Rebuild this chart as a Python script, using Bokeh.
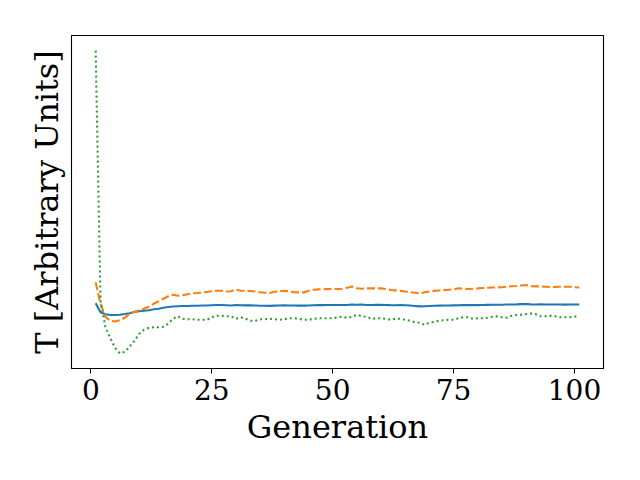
from bokeh.plotting import figure
from bokeh.models import Range1d, FixedTicker
from bokeh.embed import file_html
from bokeh.resources import INLINE

generations = list(range(1, 102))

blue_T = [57.5, 48.5, 46.5, 45.7, 45.7, 46, 46.7, 47.5, 48.8, 49.5,
          50, 50.5, 51.5, 52, 53, 53.8, 54.3, 54.5, 54.7, 54.7,
          55, 55, 55.2, 55.2, 55.5, 55.7, 55.7, 55.5, 55.3, 55.7,
          55.5, 55.4, 55.4, 55.2, 55, 55, 54.9, 55.1, 55.3, 55.4,
          55.3, 55.2, 55.1, 55.1, 55.3, 55.5, 55.6, 55.6, 55.7, 55.7,
          55.7, 55.8, 55.8, 56.2, 56, 56.3, 55.7, 55.8, 55.9, 55.9,
          55.8, 55.6, 55.5, 55.6, 55.5, 55.2, 54.8, 54.4, 54.5, 54.8,
          55, 55.1, 55.2, 55.3, 55.4, 55.5, 55.6, 55.7, 55.6, 55.6,
          55.7, 55.9, 56, 56, 56, 56.2, 56.3, 56.4, 56.6, 56.7,
          56.4, 56.3, 56.4, 56.3, 56.2, 56.3, 56.2, 56.1, 56.2, 56.3,
          56.2]

orange_T = [78.5, 57, 44, 40, 39.3, 40.5, 43, 47, 49, 50.5,
            52, 54, 57, 59.5, 62, 64.5, 66, 65, 65.5, 66.5,
            67.5, 67.7, 68, 68.8, 69.5, 70, 70, 69.2, 69.5, 71.2,
            70, 70, 69.7, 69.2, 68.5, 68, 67.7, 69, 69.7, 70,
            69.5, 68.5, 68.3, 68.3, 70, 71, 71.3, 71.5, 71.7, 71.7,
            71.7, 72, 73, 74.2, 72.5, 72, 72.3, 72.3, 72.3, 72.3,
            71.7, 70.7, 70.3, 69.8, 69.2, 68.5, 68, 67.3, 68.5, 69.3,
            69.8, 70.2, 70.6, 71, 71.3, 72.5, 72.2, 71.7, 72, 72.3,
            72.7, 73, 73.2, 73.3, 73.5, 74, 74.4, 74.7, 75.2, 75.7,
            74.5, 74.3, 74.3, 74, 73.7, 73.8, 74, 74, 74, 73.5,
            73.2]

green_T = [309.5, 60, 34, 23, 13, 7.5, 9, 14, 20, 27,
           31, 33, 33.5, 33.5, 34, 37, 42, 44.5, 42, 41.5,
           41.5, 41, 41, 41, 43.5, 45, 45, 44.5, 44.5, 42,
           43.5, 42, 40, 40, 41.5, 41.5, 42, 41.5, 41, 41.5,
           42.5, 42.5, 42, 41, 41, 42, 42.5, 42.5, 42.5, 42.5,
           43.5, 44, 43, 44, 46, 44.5, 44, 42, 42.5, 42.5,
           42, 41, 42, 42, 41, 40, 38.5, 38, 36, 38,
           39, 40, 40.5, 41, 41, 42.5, 43.5, 43.5, 42, 42.5,
           42.5, 43, 44, 44.5, 43.5, 43, 45, 45.7, 46, 46.7,
           47.3, 46.5, 44.5, 44.5, 45, 44.5, 43.5, 43.5, 43.5, 44.3,
           44]

x_ticks = [0, 25, 50, 75, 100]

all_y = blue_T + orange_T + green_T
ymin, ymax = min(all_y), max(all_y)
ypad = 0.05 * (ymax - ymin)
xmin, xmax = min(generations), max(generations)
xpad = 0.05 * (xmax - xmin)

p = figure(width=632, height=472, output_backend="svg", toolbar_location=None,
           x_range=Range1d(xmin - xpad, xmax + xpad),
           y_range=Range1d(ymin - ypad, ymax + ypad),
           min_border_left=71, min_border_right=29, min_border_top=35, min_border_bottom=104)

p.background_fill_color = "white"
p.border_fill_color = "white"
p.outline_line_color = "black"
p.outline_line_width = 1.1
p.grid.visible = False

p.line(generations, blue_T, line_color="#1f77b4", line_width=2.1)
p.line(generations, orange_T, line_color="#ff7f0e", line_width=2.1, line_dash="8 3")
p.line(generations, green_T, line_color="#2ca02c", line_width=2.1, line_dash="2 3")

xa = p.xaxis[0]
xa.ticker = FixedTicker(ticks=x_ticks)
xa.minor_tick_line_color = None
xa.major_tick_in = 0
xa.major_tick_out = 5
xa.major_tick_line_color = "black"
xa.axis_line_color = "black"
xa.major_label_standoff = 5
xa.major_label_text_font = "DejaVu Serif"
xa.major_label_text_font_size = "28px"
xa.major_label_text_color = "black"
xa.axis_label = "Generation"
xa.axis_label_text_font = "DejaVu Serif"
xa.axis_label_text_font_size = "32px"
xa.axis_label_text_font_style = "normal"
xa.axis_label_text_color = "black"
xa.axis_label_standoff = 5

ya = p.yaxis[0]
ya.ticker = FixedTicker(ticks=[])
ya.minor_tick_line_color = None
ya.major_tick_line_color = None
ya.axis_line_color = "black"
ya.major_label_text_font_size = "0px"
ya.axis_label = "T [Arbitrary Units]"
ya.axis_label_text_font = "DejaVu Serif"
ya.axis_label_text_font_size = "32px"
ya.axis_label_text_font_style = "normal"
ya.axis_label_text_color = "black"
ya.axis_label_standoff = 6

open("out.html", "w").write(file_html(p, INLINE))
